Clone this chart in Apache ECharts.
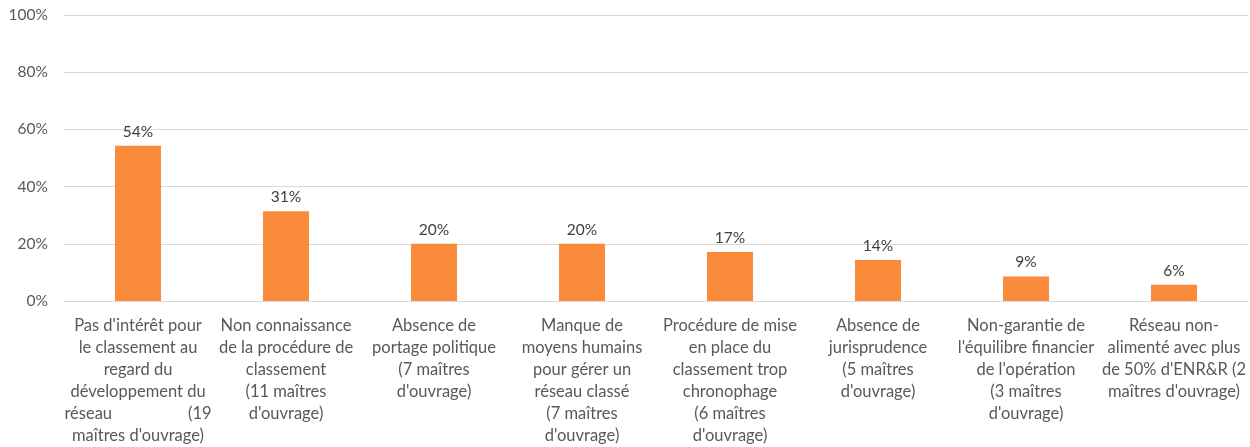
<!DOCTYPE html>
<html>
<head>
<meta charset="utf-8">
<script src="https://cdn.jsdelivr.net/npm/echarts@6/dist/echarts.min.js"></script>
<style>
  html, body { margin: 0; padding: 0; background: #fff; }
  #chart { width: 1250px; height: 447px; }
</style>
</head>
<body>
<div id="chart"></div>
<script>
const categories = [
  "Pas d'intérêt pour\nle classement au\nregard du\ndéveloppement du\nréseau                  (19\nmaîtres d'ouvrage)",
  "Non connaissance\nde la procédure de\nclassement\n(11 maîtres\nd'ouvrage)",
  "Absence de\nportage politique\n(7 maîtres\nd'ouvrage)",
  "Manque de\nmoyens humains\npour gérer un\nréseau classé\n(7 maîtres\nd'ouvrage)",
  "Procédure de mise\nen place du\nclassement trop\nchronophage\n(6 maîtres\nd'ouvrage)",
  "Absence de\njurisprudence\n(5 maîtres\nd'ouvrage)",
  "Non-garantie de\nl'équilibre financier\nde l'opération\n(3 maîtres\nd'ouvrage)",
  "Réseau non-\nalimenté avec plus\nde 50% d'ENR&R (2\nmaîtres d'ouvrage)"
]
const values = [54.3, 31.4, 20.0, 20.0, 17.1, 14.3, 8.6, 5.7]

const chart = echarts.init(document.getElementById('chart'))

const option = {
  animation: false,
  textStyle: { fontFamily: 'Lato, sans-serif' },
  grid: { left: 64, right: 2, top: 15, bottom: 146 },
  xAxis: {
    type: 'category',
    data: categories,
    axisLine: { show: true, lineStyle: { color: '#d9d9d9' } },
    axisTick: { show: false },
    axisLabel: {
      interval: 0,
      color: '#595959',
      fontSize: 16.5,
      lineHeight: 22,
      margin: 14,
      align: 'center'
    }
  },
  yAxis: {
    type: 'value',
    min: 0,
    max: 100,
    interval: 20,
    axisLine: { show: false },
    axisTick: { show: false },
    splitLine: { lineStyle: { color: '#d9d9d9' } },
    axisLabel: {
      formatter: '{value}%',
      color: '#595959',
      fontSize: 15.5,
      margin: 16
    }
  },
  series: [
    {
      type: 'bar',
      data: values,
      barWidth: 46,
      itemStyle: { color: '#F98B3A' },
      label: {
        show: true,
        position: 'top',
        distance: 6,
        color: '#404040',
        fontSize: 15.5,
        formatter: (p) => Math.round(p.value) + '%'
      }
    }
  ]
}

chart.setOption(option)
window.addEventListener('resize', () => chart.resize())
</script>
</body>
</html>
